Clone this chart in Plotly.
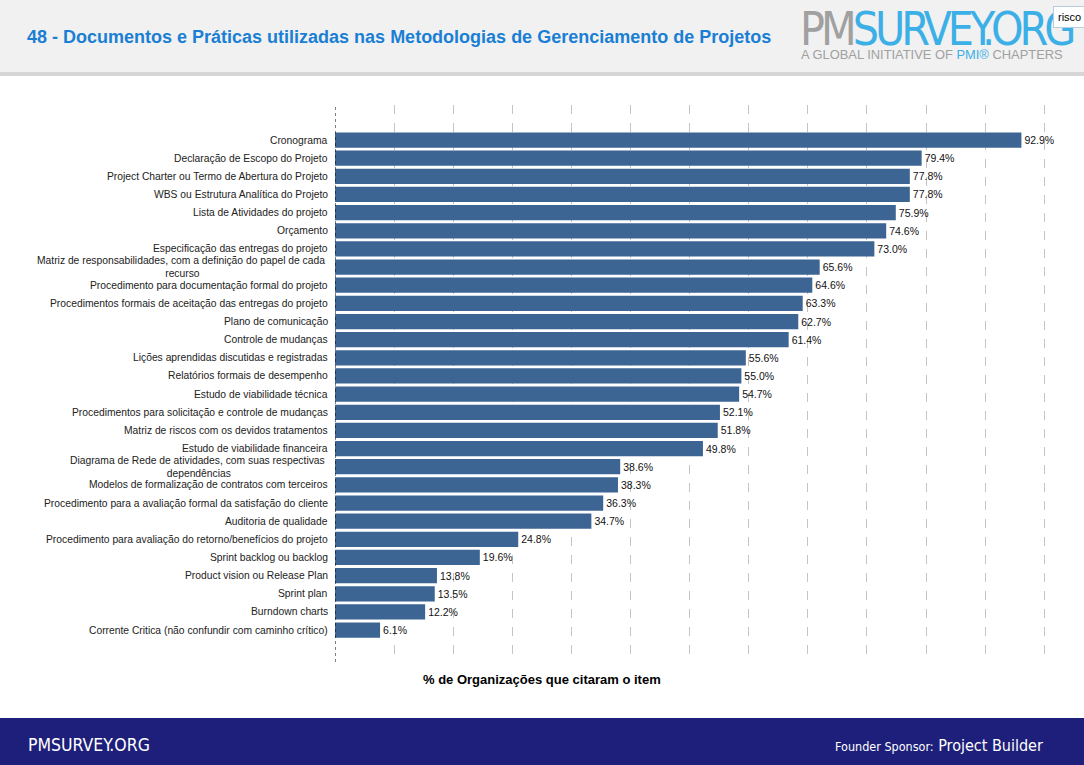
import plotly.graph_objects as go

categories = [
    "Cronograma",
    "Declaração de Escopo do Projeto",
    "Project Charter ou Termo de Abertura do Projeto",
    "WBS ou Estrutura Analítica do Projeto",
    "Lista de Atividades do projeto",
    "Orçamento",
    "Especificação das entregas do projeto",
    "Matriz de responsabilidades, com a definição do papel de cada <br>recurso",
    "Procedimento para documentação formal do projeto",
    "Procedimentos formais de aceitação das entregas do projeto",
    "Plano de comunicação",
    "Controle de mudanças",
    "Lições aprendidas discutidas e registradas",
    "Relatórios formais de desempenho",
    "Estudo de viabilidade técnica",
    "Procedimentos para solicitação e controle de mudanças",
    "Matriz de riscos com os devidos tratamentos",
    "Estudo de viabilidade financeira",
    "Diagrama de Rede de atividades, com suas respectivas <br>dependências",
    "Modelos de formalização de contratos com terceiros",
    "Procedimento para a avaliação formal da satisfação do cliente",
    "Auditoria de qualidade",
    "Procedimento para avaliação do retorno/benefícios do projeto",
    "Sprint backlog ou backlog",
    "Product vision ou Release Plan",
    "Sprint plan",
    "Burndown charts",
    "Corrente Critica (não confundir com caminho crítico)",
]
values = [92.9, 79.4, 77.8, 77.8, 75.9, 74.6, 73.0, 65.6, 64.6, 63.3, 62.7, 61.4,
          55.6, 55.0, 54.7, 52.1, 51.8, 49.8, 38.6, 38.3, 36.3, 34.7, 24.8, 19.6,
          13.8, 13.5, 12.2, 6.1]

title_text = "48 - Documentos e Práticas utilizadas nas Metodologias de Gerenciamento de Projetos"
axis_title = "% de Organizações que citaram o item"

W, H = 1084, 765
L, R, T, B = 335, 1048, 105, 662


def px(x):
    return (x - L) / (R - L)


def py(y):
    return (B - y) / (B - T)


FONT = "Liberation Sans, Arial, sans-serif"
COND = "DejaVu Sans Condensed, Liberation Sans Narrow, Liberation Sans, Arial, sans-serif"

fig = go.Figure()
fig.add_trace(go.Bar(
    x=values,
    y=categories,
    orientation="h",
    marker=dict(color="#3d6594", line=dict(width=0)),
    width=0.84,
    text=[f"{v:.1f}%" for v in values],
    textposition="outside",
    textfont=dict(family=FONT, size=10.5, color="#111111"),
    cliponaxis=False,
    constraintext="none",
    hoverinfo="skip",
))

shapes = [
    dict(type="rect", xref="paper", yref="paper", x0=px(0), x1=px(W), y0=py(72), y1=py(0),
         fillcolor="#f1f1f1", line=dict(width=0), layer="below"),
    dict(type="rect", xref="paper", yref="paper", x0=px(0), x1=px(W), y0=py(76), y1=py(72),
         fillcolor="#d6d6d6", line=dict(width=0), layer="below"),
    dict(type="rect", xref="paper", yref="paper", x0=px(0), x1=px(W), y0=py(H), y1=py(718),
         fillcolor="#1e1f7a", line=dict(width=0), layer="below"),
    dict(type="line", xref="x", yref="paper", x0=0, x1=0, y0=0, y1=1,
         line=dict(color="#000000", width=1, dash="dot")),
]

annotations = []
for c in categories:
    annotations.append(dict(
        x=0, xref="paper", y=c, yref="y", text=c, showarrow=False,
        xanchor="right", yanchor="middle", align="center", xshift=-5,
        font=dict(family=FONT, size=10.3, color="#222222"),
    ))

annotations += [
    dict(x=px(25), y=py(37), xref="paper", yref="paper", text=f"<b>{title_text}</b>",
         showarrow=False, xanchor="left", yanchor="middle",
         font=dict(family=FONT, size=18, color="#1a7fd4")),
    dict(x=px(798), y=py(29), xref="paper", yref="paper",
         text="<span style='color:#a0a0a0;letter-spacing:-4px'>PM</span>"
              "<span style='color:#3cb0e6;letter-spacing:-4px'>SURVEY.ORG</span>",
         showarrow=False, xanchor="left", yanchor="middle",
         font=dict(family=COND, size=46, color="#3cb0e6")),
    dict(x=px(799), y=py(55), xref="paper", yref="paper",
         text="A GLOBAL INITIATIVE OF <span style='color:#3cb0e6'>PMI®</span> CHAPTERS",
         showarrow=False, xanchor="left", yanchor="middle",
         font=dict(family=FONT, size=12.9, color="#a0a0a0")),
    dict(x=px(1053), y=py(17), xref="paper", yref="paper", text="risco",
         showarrow=False, xanchor="left", yanchor="middle", bgcolor="#ffffff",
         bordercolor="#b8cde0", borderwidth=1, borderpad=4,
         font=dict(family=FONT, size=11, color="#000000")),
    dict(x=px(542), y=py(679), xref="paper", yref="paper", text=f"<b>{axis_title}</b>",
         showarrow=False, xanchor="center", yanchor="middle",
         font=dict(family=FONT, size=13, color="#000000")),
    dict(x=px(26), y=py(745), xref="paper", yref="paper", text="PMSURVEY.ORG",
         showarrow=False, xanchor="left", yanchor="middle",
         font=dict(family=COND, size=17.5, color="#ffffff")),
    dict(x=px(1045), y=py(745), xref="paper", yref="paper",
         text="<span style='font-size:12.5px'>Founder Sponsor:</span> Project Builder",
         showarrow=False, xanchor="right", yanchor="middle",
         font=dict(family=COND, size=16, color="#ffffff")),
]

fig.update_layout(
    width=W, height=H,
    margin=dict(l=L, r=W - R, t=T, b=H - B),
    paper_bgcolor="#ffffff",
    plot_bgcolor="#ffffff",
    showlegend=False,
    shapes=shapes,
    annotations=annotations,
)
fig.update_xaxes(
    range=[0, 96.5], dtick=8, tick0=0, showticklabels=False, ticks="",
    showgrid=True, gridcolor="#c4c4c4", griddash="dash", gridwidth=1,
    zeroline=False, showline=False,
)
fig.update_yaxes(
    type="category", range=[len(categories) - 1 + 1.76, -1.93],
    showticklabels=False, ticks="", showgrid=False, zeroline=False, showline=False,
)

fig.write_html(
    "out.html",
    config={"displayModeBar": False},
    post_script="document.body.style.margin='0';document.body.style.overflow='hidden';",
)
